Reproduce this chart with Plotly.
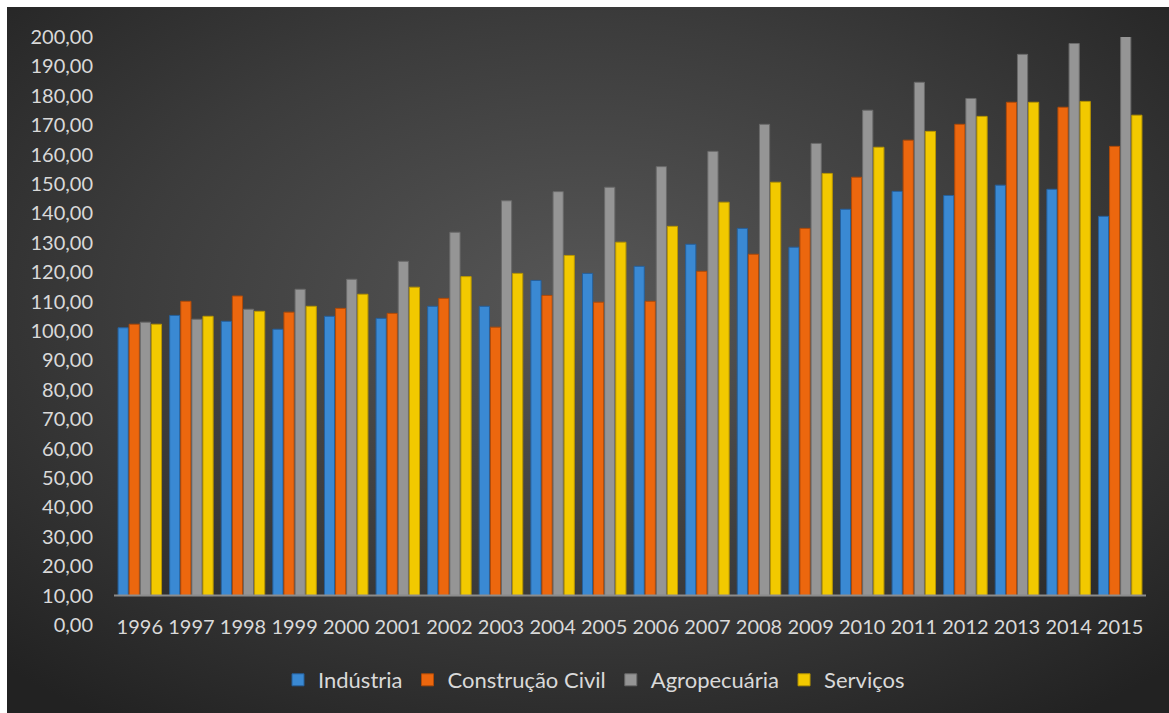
import base64
import plotly.graph_objects as go

years = ["1996", "1997", "1998", "1999", "2000", "2001", "2002", "2003", "2004", "2005",
         "2006", "2007", "2008", "2009", "2010", "2011", "2012", "2013", "2014", "2015"]
industria = [101.1, 105.3, 103.3, 100.6, 105.0, 104.3, 108.4, 108.4, 117.2, 119.6,
             122.0, 129.5, 134.9, 128.5, 141.4, 147.5, 146.1, 149.6, 148.2, 139.0]
construcao = [102.3, 110.1, 111.9, 106.4, 107.7, 106.0, 111.1, 101.3, 112.1, 109.8,
              110.1, 120.3, 126.1, 134.9, 152.3, 164.9, 170.3, 177.8, 176.1, 162.8]
agropecuaria = [103.0, 104.0, 107.4, 114.2, 117.6, 123.7, 133.6, 144.3, 147.4, 148.9,
                155.9, 161.1, 170.3, 163.8, 175.1, 184.6, 179.1, 194.1, 197.8, 203.0]
servicos = [102.3, 105.0, 106.7, 108.4, 112.5, 114.9, 118.5, 119.6, 125.7, 130.2,
            135.6, 143.8, 150.6, 153.6, 162.5, 167.9, 173.0, 177.8, 178.1, 173.4]

series_names = ["Indústria", "Construção Civil", "Agropecuária", "Serviços"]
series_values = [industria, construcao, agropecuaria, servicos]
series_colors = ["#3A89D3", "#EC670E", "#959595", "#F2C900"]
series_edges = ["#25609C", "#B04A08", "#6A6A6A", "#B89600"]
axis_base = 10

fig = go.Figure()
for i, (name, vals, col, edge) in enumerate(zip(series_names, series_values, series_colors, series_edges)):
    fig.add_trace(go.Bar(
        x=years, y=[v - axis_base for v in vals], base=axis_base, name=name,
        legendgroup="g%d" % i,
        marker=dict(color=col, line=dict(width=1, color=edge)),
    ))

svg = """<svg xmlns='http://www.w3.org/2000/svg' width='1162' height='706' preserveAspectRatio='none'>
<defs><radialGradient id='g' cx='0.5' cy='0.42' r='0.72'>
<stop offset='0' stop-color='#575757'/>
<stop offset='0.55' stop-color='#3c3c3c'/>
<stop offset='1' stop-color='#222222'/>
</radialGradient></defs>
<rect width='1162' height='706' fill='url(#g)'/></svg>"""
src = "data:image/svg+xml;base64," + base64.b64encode(svg.encode()).decode()

W, H = 1169, 713
L, R, T, B = 114, 23, 37, 88
pw, ph = W - L - R, H - T - B
def px(xp):
    return (xp - L) / pw
def py(yp):
    return (H - B - yp) / ph

fig.add_layout_image(dict(
    source=src, xref="paper", yref="paper",
    x=px(7), y=py(7), sizex=px(1169) - px(7), sizey=py(7) - py(713),
    xanchor="left", yanchor="top", sizing="stretch", layer="below",
))

fig.add_shape(type="line", xref="paper", yref="y", x0=0, x1=1, y0=axis_base, y1=axis_base,
              line=dict(color="#8c8c8c", width=2), layer="above")

font_fam = "Lato, 'Open Sans', sans-serif"
fig.update_layout(
    width=W, height=H,
    margin=dict(l=L, r=R, t=T, b=B, pad=0),
    paper_bgcolor="white", plot_bgcolor="rgba(0,0,0,0)",
    separators=",.",
    barmode="group", bargap=0.14, bargroupgap=0.08,
    font=dict(family=font_fam, color="#d9d9d9", size=20),
    showlegend=True,
    legend=dict(orientation="h", x=px(594), xanchor="center", y=py(680), yanchor="middle",
                font=dict(size=22, color="#d9d9d9"), bgcolor="rgba(0,0,0,0)",
                itemwidth=30, traceorder="normal", tracegroupgap=18),
    xaxis=dict(showgrid=False, showline=False, zeroline=False, ticks="",
               tickfont=dict(size=20, color="#d9d9d9"), ticklabelstandoff=-12),
    yaxis=dict(range=[0, 200], dtick=10, tick0=0, tickformat=".2f", showgrid=False,
               zeroline=False, showline=False, ticks="",
               tickfont=dict(size=20, color="#d9d9d9"), ticklabelstandoff=20),
)

fig.write_html("out.html")
